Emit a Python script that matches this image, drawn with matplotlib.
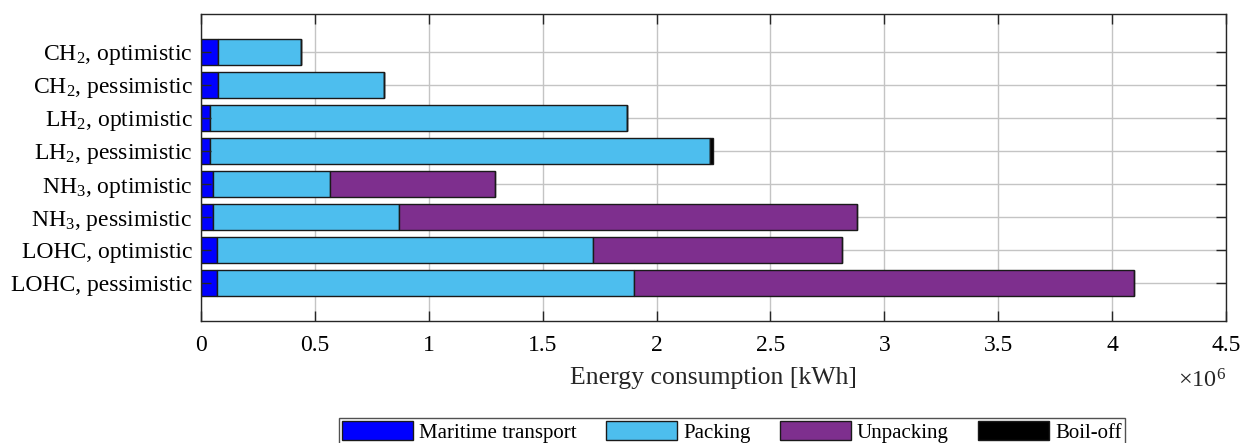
import numpy as np
import matplotlib
matplotlib.use('Agg')
import matplotlib.pyplot as plt
import matplotlib.ticker as ticker

plt.rcParams['font.family'] = 'Liberation Serif'
plt.rcParams['mathtext.fontset'] = 'custom'
plt.rcParams['mathtext.rm'] = 'Liberation Serif'
plt.rcParams['mathtext.it'] = 'Liberation Serif:italic'

# carriers / scenarios, top to bottom
labels = ['CH$_2$, optimistic', 'CH$_2$, pessimistic',
          'LH$_2$, optimistic', 'LH$_2$, pessimistic',
          'NH$_3$, optimistic', 'NH$_3$, pessimistic',
          'LOHC, optimistic', 'LOHC, pessimistic']

# energy per stage [kWh]
maritime = [0.074e6, 0.074e6, 0.039e6, 0.039e6, 0.051e6, 0.051e6, 0.070e6, 0.070e6]
packing = [0.365e6, 0.729e6, 1.832e6, 2.195e6, 0.514e6, 0.818e6, 1.649e6, 1.833e6]
unpacking = [0.0, 0.0, 0.0, 0.0, 0.727e6, 2.012e6, 1.097e6, 2.193e6]
boiloff = [0.0, 0.0, 0.0, 0.012e6, 0.0, 0.0, 0.0, 0.0]

stages = ['Maritime transport', 'Packing', 'Unpacking', 'Boil-off']
colors = ['#0000FF', '#4DBEEE', '#7E2F8E', '#000000']

fig = plt.figure(figsize=(12.42, 4.43), dpi=100)
ax = fig.add_axes([0.1618, 0.2754, 0.8253, 0.693])

y = np.arange(len(labels))
left = np.zeros(len(labels))
for vals, name, c in zip([maritime, packing, unpacking, boiloff], stages, colors):
    vals = np.array(vals)
    ax.barh(y, vals, left=left, height=0.8, color=c, edgecolor='#1a1a1a',
            linewidth=1.0, label=name, zorder=1)
    left = left + vals

ax.set_xlim(0, 4.5e6)
ax.set_ylim(7 + 1.15, -1.15)
ax.set_yticks(y)
ax.set_yticklabels(labels)
xt = np.arange(0, 4.51e6, 0.5e6)
ax.set_xticks(xt)
ax.xaxis.set_major_formatter(ticker.FuncFormatter(lambda v, p: '%g' % (v / 1e6)))

# grid behind the bars, ticks on top
for v in xt:
    ax.axvline(v, color='#c4c4c4', lw=1.0, zorder=0)
for v in y:
    ax.axhline(v, color='#c4c4c4', lw=1.0, zorder=0)

ax.tick_params(axis='both', direction='in', top=True, right=True,
               length=7.5, width=1.0, color='#262626', labelsize=17)
ax.tick_params(axis='x', pad=10)
ax.tick_params(axis='y', pad=6)
for s in ax.spines.values():
    s.set_color('#262626')
    s.set_linewidth(1.0)

fig.text(0.5745, 1 - 378 / 443, 'Energy consumption [kWh]', ha='center', va='center',
         fontsize=18.5, color='#262626')
fig.text(0.9871, 1 - 381 / 443, r'$\times10^{6}$', ha='right', va='center',
         fontsize=17.5, color='#262626')

ax.legend(loc='upper center', bbox_to_anchor=(732 / 1242, 1 - 418 / 443),
          bbox_transform=fig.transFigure, ncol=4, fontsize=15, frameon=True,
          fancybox=False, edgecolor='#262626', handlelength=3.4, handleheight=1.0,
          columnspacing=1.4, handletextpad=0.3, borderpad=0.15, borderaxespad=0)

fig.savefig('out.png', dpi=100)
